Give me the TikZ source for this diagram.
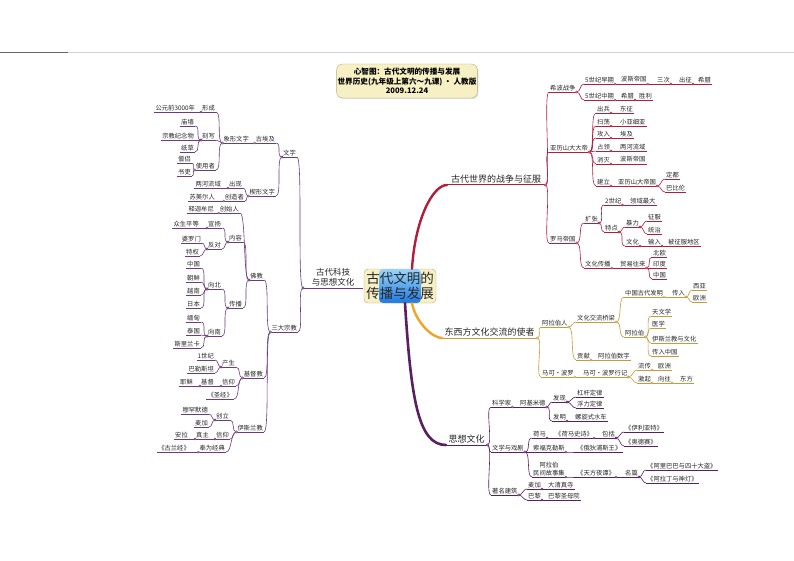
\documentclass[tikz,border=0pt]{standalone}
\usepackage{fontspec}
\setmainfont{Noto Sans CJK SC}
\usetikzlibrary{calc,shadows}

\colorlet{brColour}{black}
\newcommand{\rightLink}[2]{\draw[linkLine] (#1.south east) to[out=0,in=180,max distance=6pt] node[jDot,pos=0]{} (#2.south west);}
\newcommand{\leftLink}[2]{\draw[linkLine] (#1.south west) to[out=180,in=0,max distance=6pt] node[jDot,pos=0]{} (#2.south east);}

\tikzset{
    underLine/.style={inner xsep=1pt, inner ysep=1.2pt, text=black!85, font=\fontsize{6.3}{7.4}\selectfont,
        append after command={(\tikzlastnode.south west) edge[draw=brColour, line width=0.6pt] (\tikzlastnode.south east)}},
    rNode/.style={underLine, anchor=south west},
    lNode/.style={underLine, anchor=south east},
    mainLabel/.style={inner xsep=2pt, inner ysep=1.5pt, text=black!85, font=\fontsize{9}{10.5}\selectfont,
        append after command={(\tikzlastnode.south west) edge[draw=brColour, line width=1pt] (\tikzlastnode.south east)}},
    linkLine/.style={draw=brColour, line width=0.6pt},
    jDot/.style={circle, draw=brColour, fill=white, inner sep=0pt, minimum size=2pt, line width=0.4pt}
}

\begin{document}
\begin{tikzpicture}[x=1pt,y=-1pt]
    \definecolor{warColour}{HTML}{B01E3C}
    \definecolor{tradeColour}{HTML}{C99A3A}
    \definecolor{tradeThick}{HTML}{F0A52A}
    \definecolor{ideaColour}{HTML}{5A1F62}
    \definecolor{techColour}{HTML}{6B3B7B}
    \definecolor{boxFill}{HTML}{F6F0C4}
    \definecolor{boxLine}{HTML}{B5AC80}
    \definecolor{bandTop}{HTML}{9AD6FB}
    \definecolor{bandBottom}{HTML}{1E78E0}

    % Draw page
    \fill[white] (0,0) rectangle (794,561);
    \useasboundingbox (0,0) rectangle (794,561);
    \draw[gray!35, line width=0.8pt] (0,52) -- (794,52);
    \draw[gray!80!black, line width=0.8pt] (0,52) -- (68,52);

    % Title
    \node[draw=boxLine, fill=boxFill, rounded corners=6pt, minimum width=139, minimum height=34,
          align=center, inner sep=1pt, font=\bfseries\fontsize{7.6}{9.6}\selectfont,
          drop shadow={opacity=0.25, shadow xshift=1pt, shadow yshift=-1pt}]
        (title) at (407,81) {心智图：古代文明的传播与发展\\世界历史(九年级上第六～九课) · 人教版\\2009.12.24};

    % Centre
    \node[draw=boxLine, fill=boxFill, rounded corners=4pt, minimum width=72, minimum height=34,
          align=center, inner sep=1pt, text=black!85, font=\fontsize{13.5}{15.5}\selectfont,
          path picture={\shade[top color=bandTop, bottom color=bandBottom]
              ([xshift=-21pt]path picture bounding box.north) rectangle ([xshift=21pt]path picture bounding box.south);}]
        (centre) at (400,286) {古代文明的\\传播与发展};

    % Branch: war and conquest
    \begin{scope}
    \colorlet{brColour}{warColour}
    \node[mainLabel, anchor=south west, minimum width=98] (war) at (447,185) {古代世界的战争与征服};
    \draw[warColour, line width=2.4pt, line cap=round] ([xshift=12pt]centre.north) .. controls +(3,-50) and +(-14,0) .. (war.south west);

    \node[rNode] (xibo) at (549,92) {希波战争};
    \node[rNode] (earlyV) at (584,84) {5世纪早期};
    \node[rNode] (bosi) at (620,84) {波斯帝国};
    \node[rNode] (sanci) at (656,84) {三次};
    \node[rNode] (chuzheng) at (678,84) {出征};
    \node[rNode] (xila) at (697,84) {希腊};
    \node[rNode] (midV) at (584,100) {5世纪中期};
    \node[rNode] (xilaB) at (620,100) {希腊};
    \node[rNode] (shengli) at (638,100) {胜利};

    \node[rNode] (yali) at (549,152) {亚历山大大帝};
    \node[rNode] (chubing) at (596,113) {出兵};
    \node[rNode] (dongzheng) at (619,113) {东征};
    \node[rNode] (saodang) at (596,126) {扫荡};
    \node[rNode] (xiaoya) at (619,126) {小亚细亚};
    \node[rNode] (gongru) at (596,138) {攻入};
    \node[rNode] (aiji) at (619,138) {埃及};
    \node[rNode] (zhanling) at (596,151) {占领};
    \node[rNode] (lianghe) at (619,151) {两河流域};
    \node[rNode] (xiaomie) at (596,164) {消灭};
    \node[rNode] (bosiB) at (619,164) {波斯帝国};
    \node[rNode] (jianli) at (596,186) {建立};
    \node[rNode] (yldg) at (617,186) {亚历山大帝国};
    \node[rNode] (dingdu) at (665,179) {定都};
    \node[rNode] (babilun) at (665,192) {巴比伦};

    \node[rNode] (luoma) at (549,243) {罗马帝国};
    \node[rNode] (kuozhang) at (584,223) {扩张};
    \node[rNode] (shijiB) at (604,205) {2世纪};
    \node[rNode] (lingyu) at (629,205) {领域最大};
    \node[rNode] (tedian) at (604,232) {特点};
    \node[rNode] (baoli) at (625,227) {暴力};
    \node[rNode] (zhengfu) at (647,221) {征服};
    \node[rNode] (tongzhi) at (647,234) {统治};
    \node[rNode] (wenhuaR) at (625,246) {文化};
    \node[rNode] (shuru) at (647,246) {输入};
    \node[rNode] (beizf) at (667,246) {被征服地区};
    \node[rNode] (wenchuan) at (584,268) {文化传播};
    \node[rNode] (maoyi) at (619,268) {贸易往来};
    \node[rNode] (beiou) at (652,257) {北欧};
    \node[rNode] (yindu) at (652,268) {印度};
    \node[rNode] (zgR) at (652,279) {中国};

    \foreach \a/\b in {war/xibo, war/yali, war/luoma, xibo/earlyV, xibo/midV,
        earlyV/bosi, bosi/sanci, sanci/chuzheng, chuzheng/xila, midV/xilaB, xilaB/shengli,
        yali/chubing, yali/saodang, yali/gongru, yali/zhanling, yali/xiaomie, yali/jianli,
        chubing/dongzheng, saodang/xiaoya, gongru/aiji, zhanling/lianghe, xiaomie/bosiB,
        jianli/yldg, yldg/dingdu, yldg/babilun,
        luoma/kuozhang, luoma/wenchuan, kuozhang/shijiB, kuozhang/tedian, shijiB/lingyu,
        tedian/baoli, tedian/wenhuaR, baoli/zhengfu, baoli/tongzhi, wenhuaR/shuru, shuru/beizf,
        wenchuan/maoyi, maoyi/beiou, maoyi/yindu, maoyi/zgR}
        \rightLink{\a}{\b};
    \end{scope}

    % Branch: cultural exchange
    \begin{scope}
    \colorlet{brColour}{tradeColour}
    \node[mainLabel, anchor=south west, minimum width=95] (dongxi) at (442,338) {东西方文化交流的使者};
    \draw[tradeThick, line width=2.4pt, line cap=round] ([xshift=12pt]centre.south) .. controls +(4,20) and +(-9,0) .. (dongxi.south west);

    \node[rNode] (alabo) at (541,327) {阿拉伯人};
    \node[rNode] (qiaoliang) at (576,322) {文化交流桥梁};
    \node[rNode] (faming) at (624,297) {中国古代发明};
    \node[rNode] (chuanru) at (671,297) {传入};
    \node[rNode] (xiya) at (692,290) {西亚};
    \node[rNode] (ouzhou) at (692,302) {欧洲};
    \node[rNode] (alb) at (624,337) {阿拉伯};
    \node[rNode] (tianwen) at (651,316) {天文学};
    \node[rNode] (yixue) at (651,328) {医学};
    \node[rNode] (yisilan) at (651,343) {伊斯兰教与文化};
    \node[rNode] (chrzg) at (651,356) {传入中国};
    \node[rNode] (gongxian) at (576,360) {贡献};
    \node[rNode] (shuzi) at (597,360) {阿拉伯数字};
    \node[rNode] (makebl) at (541,377) {马可·波罗};
    \node[rNode] (xingji) at (582,377) {马可·波罗行记};
    \node[rNode] (liuchuan) at (637,370) {流传};
    \node[rNode] (ouzhouB) at (657,370) {欧洲};
    \node[rNode] (jiqi) at (637,383) {激起};
    \node[rNode] (xiangwang) at (657,383) {向往};
    \node[rNode] (dongfang) at (679,383) {东方};

    \foreach \a/\b in {dongxi/alabo, dongxi/makebl, alabo/qiaoliang, alabo/gongxian,
        qiaoliang/faming, qiaoliang/alb, faming/chuanru, chuanru/xiya, chuanru/ouzhou,
        alb/tianwen, alb/yixue, alb/yisilan, alb/chrzg, gongxian/shuzi,
        makebl/xingji, xingji/liuchuan, xingji/jiqi, liuchuan/ouzhouB, jiqi/xiangwang, xiangwang/dongfang}
        \rightLink{\a}{\b};
    \end{scope}

    % Branch: thought and culture
    \begin{scope}
    \colorlet{brColour}{ideaColour}
    \node[mainLabel, anchor=south west, minimum width=41] (sixiang) at (446,445) {思想文化};
    \draw[ideaColour, line width=2.6pt, line cap=round] ([xshift=5pt]centre.south) .. controls +(6,95) and +(-28,0) .. (sixiang.south west);

    \node[rNode] (kexuejia) at (491,407) {科学家};
    \node[rNode] (ajmd) at (519,407) {阿基米德};
    \node[rNode] (faxian) at (552,402) {发现};
    \node[rNode] (ganggan) at (576,397) {杠杆定律};
    \node[rNode] (fuli) at (576,408) {浮力定律};
    \node[rNode] (famingB) at (552,421) {发明};
    \node[rNode] (shuiche) at (574,421) {螺旋式水车};
    \node[rNode] (wenxue) at (491,452) {文学与戏剧};
    \node[rNode] (homa) at (532,438) {荷马};
    \node[rNode] (shishi) at (554,438) {《荷马史诗》};
    \node[rNode] (baokuo) at (601,438) {包括};
    \node[rNode] (yilite) at (624,432) {《伊利亚特》};
    \node[rNode] (aodesai) at (624,446) {《奥德赛》};
    \node[rNode] (suofu) at (532,452) {索福克勒斯};
    \node[rNode] (edipus) at (576,452) {《俄狄浦斯王》};
    \node[rNode, align=center] (minjian) at (532,477) {阿拉伯\\民间故事集};
    \node[rNode] (tianfang) at (576,477) {《天方夜谭》};
    \node[rNode] (mingpian) at (624,477) {名篇};
    \node[rNode] (alibaba) at (646,470) {《阿里巴巴与四十大盗》};
    \node[rNode] (aladin) at (646,483) {《阿拉丁与神灯》};
    \node[rNode] (jianzhu) at (491,495) {著名建筑};
    \node[rNode] (maijia) at (527,489) {麦加};
    \node[rNode] (qzs) at (547,489) {大清真寺};
    \node[rNode] (bali) at (527,500) {巴黎};
    \node[rNode] (shengmu) at (547,500) {巴黎圣母院};

    \foreach \a/\b in {sixiang/kexuejia, sixiang/wenxue, sixiang/jianzhu,
        kexuejia/ajmd, ajmd/faxian, ajmd/famingB, faxian/ganggan, faxian/fuli, famingB/shuiche,
        wenxue/homa, wenxue/suofu, wenxue/minjian, homa/shishi, shishi/baokuo, baokuo/yilite, baokuo/aodesai,
        suofu/edipus, minjian/tianfang, tianfang/mingpian, mingpian/alibaba, mingpian/aladin,
        jianzhu/maijia, jianzhu/bali, maijia/qzs, bali/shengmu}
        \rightLink{\a}{\b};
    \end{scope}

    % Branch: science and culture (left)
    \begin{scope}
    \colorlet{brColour}{techColour}
    \node[mainLabel, anchor=south west, align=center, minimum width=60, font=\fontsize{8.5}{10.5}\selectfont] (keji) at (303,288) {古代科技\\与思想文化};

    \node[lNode] (wenzi) at (297,157) {文字};
    \node[lNode] (guaiji) at (276,143) {古埃及};
    \node[lNode] (xiangxing) at (250,143) {象形文字};
    \node[lNode] (xingcheng) at (216,112) {形成};
    \node[lNode] (gongyuan) at (196,112) {公元前3000年};
    \node[lNode] (kexie) at (216,140) {刻写};
    \node[lNode] (miaoqiang) at (195,126) {庙墙};
    \node[lNode] (zongjiao) at (195,140) {宗教纪念物};
    \node[lNode] (zhicao) at (195,152) {纸草};
    \node[lNode] (shiyong) at (216,170) {使用者};
    \node[lNode] (sengl) at (192,163) {僧侣};
    \node[lNode] (shuli) at (192,176) {书吏};
    \node[lNode] (xiexing) at (276,196) {楔形文字};
    \node[lNode] (chuxian) at (243,188) {出现};
    \node[lNode] (liangheB) at (222,188) {两河流域};
    \node[lNode] (chuangzao) at (245,201) {创造者};
    \node[lNode] (sumeier) at (216,201) {苏美尔人};

    \node[lNode] (sanda) at (298,332) {三大宗教};
    \node[lNode] (fojiao) at (264,280) {佛教};
    \node[lNode] (chuangshi) at (240,213) {创始人};
    \node[lNode] (shijia) at (215,213) {释迦牟尼};
    \node[lNode] (neirong) at (243,242) {内容};
    \node[lNode] (xuanyang) at (222,228) {宣扬};
    \node[lNode] (zhongsheng) at (200,228) {众生平等};
    \node[lNode] (fandui) at (222,249) {反对};
    \node[lNode] (poluomen) at (202,243) {婆罗门};
    \node[lNode] (tequan) at (200,256) {特权};
    \node[lNode] (chuanbo) at (243,308) {传播};
    \node[lNode] (xiangbei) at (222,289) {向北};
    \node[lNode] (zgL) at (201,268) {中国};
    \node[lNode] (chaoxian) at (201,282) {朝鲜};
    \node[lNode] (yuenan) at (201,295) {越南};
    \node[lNode] (riben) at (201,308) {日本};
    \node[lNode] (xiangnan) at (222,336) {向南};
    \node[lNode] (miandian) at (201,322) {缅甸};
    \node[lNode] (taiguo) at (201,335) {泰国};
    \node[lNode] (sililanka) at (201,348) {斯里兰卡};
    \node[lNode] (jidujiao) at (264,378) {基督教};
    \node[lNode] (chansheng) at (236,367) {产生};
    \node[lNode] (shiji) at (215,360) {1世纪};
    \node[lNode] (balesitan) at (215,373) {巴勒斯坦};
    \node[lNode] (xinyang) at (236,386) {信仰};
    \node[lNode] (jidu) at (215,386) {基督};
    \node[lNode] (yesu) at (194,386) {耶稣};
    \node[lNode] (shengjing) at (234,399) {《圣经》};
    \node[lNode] (yisilanjiao) at (264,432) {伊斯兰教};
    \node[lNode] (chuangli) at (230,420) {创立};
    \node[lNode] (mhmd) at (209,414) {穆罕默德};
    \node[lNode] (maijiaL) at (209,427) {麦加};
    \node[lNode] (xinyangB) at (230,439) {信仰};
    \node[lNode] (zhenzhu) at (210,439) {真主};
    \node[lNode] (anla) at (189,439) {安拉};
    \node[lNode] (fengwei) at (226,452) {奉为经典};
    \node[lNode] (gulanjing) at (191,452) {《古兰经》};

    \foreach \a/\b in {keji/wenzi, keji/sanda, wenzi/guaiji, wenzi/xiexing, guaiji/xiangxing,
        xiangxing/xingcheng, xiangxing/kexie, xiangxing/shiyong, xingcheng/gongyuan,
        kexie/miaoqiang, kexie/zongjiao, kexie/zhicao, shiyong/sengl, shiyong/shuli,
        xiexing/chuxian, xiexing/chuangzao, chuxian/liangheB, chuangzao/sumeier,
        sanda/fojiao, sanda/jidujiao, sanda/yisilanjiao,
        fojiao/chuangshi, fojiao/neirong, fojiao/chuanbo, chuangshi/shijia,
        neirong/xuanyang, neirong/fandui, xuanyang/zhongsheng, fandui/poluomen, fandui/tequan,
        chuanbo/xiangbei, chuanbo/xiangnan, xiangbei/zgL, xiangbei/chaoxian, xiangbei/yuenan, xiangbei/riben,
        xiangnan/miandian, xiangnan/taiguo, xiangnan/sililanka,
        jidujiao/chansheng, jidujiao/xinyang, jidujiao/shengjing, chansheng/shiji, chansheng/balesitan,
        xinyang/jidu, jidu/yesu,
        yisilanjiao/chuangli, yisilanjiao/xinyangB, yisilanjiao/fengwei, chuangli/mhmd, chuangli/maijiaL,
        xinyangB/zhenzhu, zhenzhu/anla, fengwei/gulanjing}
        \leftLink{\a}{\b};
    \end{scope}

\end{tikzpicture}
\end{document}
